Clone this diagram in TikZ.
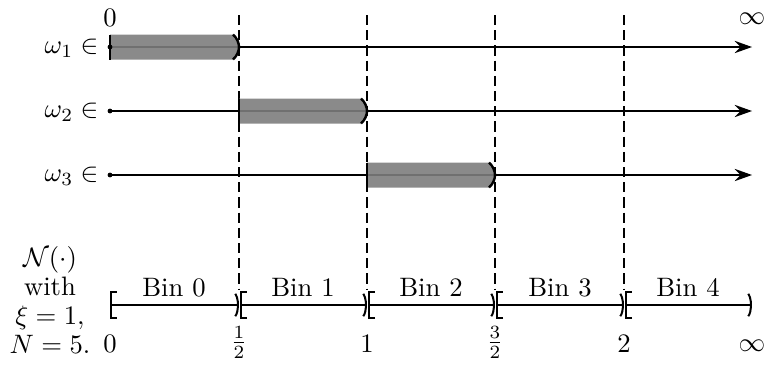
\documentclass[tikz,border=0pt]{standalone}
\usetikzlibrary{arrows.meta}
\begin{document}
\begin{tikzpicture}[x=0.375pt,y=-0.375pt,
  axisline/.style={line width=0.75pt, -{Stealth[length=6.5pt,width=4.6pt,inset=2.2pt]}},
  divider/.style={line width=0.6pt, dash pattern=on 3.8pt off 1.9pt},
  binseg/.style={line width=0.75pt, {Bracket[width=10.5pt,length=2.2pt]}-{Parenthesis[width=10.5pt,length=2.4pt]}},
  barfill/.style={fill=black!51, fill opacity=0.9},
  barend/.style={line width=0.9pt},
  lbl/.style={inner sep=0pt, anchor=base},
  startdot/.style={fill=black, circle, inner sep=0pt, minimum size=1.8pt},
]
\useasboundingbox (0,0) rectangle (768,369);

% row coordinates
\foreach \r/\y in {1/47, 2/111, 3/175}{
  \coordinate (s\r) at (110,\y);
  \coordinate (e\r) at (752,\y);
}
% bottom axis ticks
\foreach \i/\x in {0/110,1/239,2/367,3/495,4/624,5/752}{
  \coordinate (t\i) at (\x,305);
}
% dashed dividers
\foreach \i/\x in {1/239,2/367,3/495,4/624}{
  \coordinate (dtop\i) at (\x,15);
  \coordinate (dbot\i) at (\x,290);
  \draw[divider] (dtop\i) -- (dbot\i);
}

% omega axes
\foreach \r in {1,2,3}{
  \draw[axisline] (s\r) -- (e\r);
}

% shaded intervals
\foreach \r/\a/\b/\y in {1/110/239/47, 2/239/367/111, 3/367/495/175}{
  \fill[barfill] (\a,\y-12.5) -- (\b-6,\y-12.5)
     .. controls (\b-2,\y-9) and (\b,\y-4) .. (\b,\y)
     .. controls (\b,\y+4) and (\b-2,\y+9) .. (\b-6,\y+12.5)
     -- (\a,\y+12.5) -- cycle;
  \draw[barend] (\b-6,\y-12.5)
     .. controls (\b-2,\y-9) and (\b,\y-4) .. (\b,\y)
     .. controls (\b,\y+4) and (\b-2,\y+9) .. (\b-6,\y+12.5);
  \draw[barend] (\a,\y-12.5) -- (\a,\y+12.5);
}

% start dots
\foreach \r in {1,2,3}{
  \node[startdot] (dot\r) at (s\r) {};
}

% omega labels
\node[lbl, anchor=base east] (w1) at (99,53) {$\omega_1\in$};
\node[lbl, anchor=base east] (w2) at (99,117) {$\omega_2\in$};
\node[lbl, anchor=base east] (w3) at (99,181) {$\omega_3\in$};

% top labels
\node[lbl] (top0) at (110,26) {$0$};
\node[lbl] (topinf) at (752,24) {$\infty$};

% bottom axis segments
\draw[binseg] (t0) -- (t1);
\draw[binseg] ([xshift=0.5pt]t1) -- (t2);
\draw[binseg] ([xshift=0.5pt]t2) -- (t3);
\draw[binseg] ([xshift=0.5pt]t3) -- (t4);
\draw[binseg] ([xshift=0.5pt]t4) -- (t5);

% bin labels
\node[lbl] (bin0) at (174,296) {Bin 0};
\node[lbl] (bin1) at (303,296) {Bin 1};
\node[lbl] (bin2) at (431,296) {Bin 2};
\node[lbl] (bin3) at (560,296) {Bin 3};
\node[lbl] (bin4) at (688,296) {Bin 4};

% bottom tick labels
\node[lbl] (b0) at (110,352) {$0$};
\node[lbl] (b1) at (239,349) {$\frac{1}{2}$};
\node[lbl] (b2) at (367,352) {$1$};
\node[lbl] (b3) at (495,349) {$\frac{3}{2}$};
\node[lbl] (b4) at (624,352) {$2$};
\node[lbl] (b5) at (752,351) {$\infty$};

% left caption
\node[lbl] (capA) at (50,266) {$\mathcal{N}(\cdot)$};
\node[lbl] (capB) at (50,295) {with};
\node[lbl] (capC) at (50,324) {$\xi=1,$};
\node[lbl] (capD) at (50,353) {$N=5.$};
\end{tikzpicture}
\end{document}
